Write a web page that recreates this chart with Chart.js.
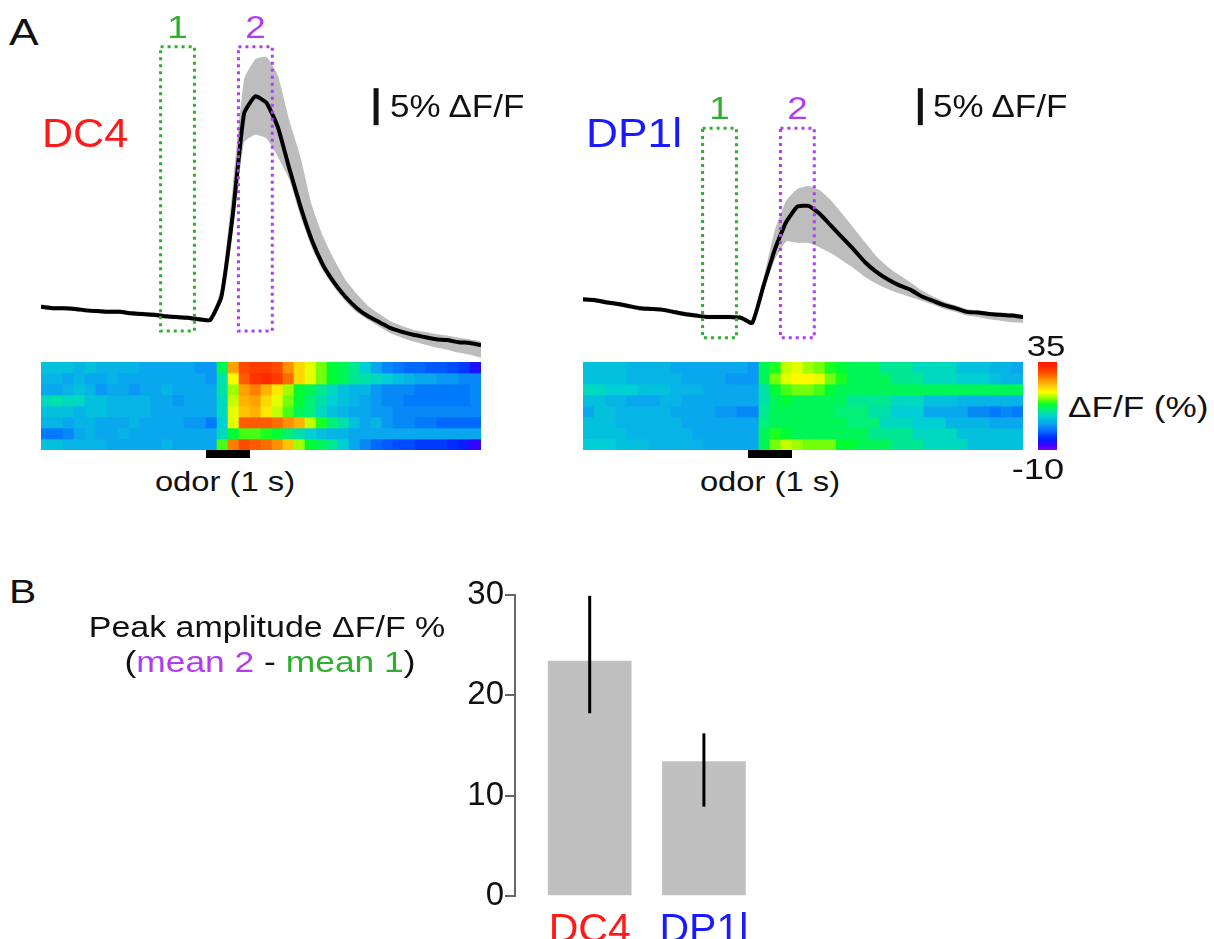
<!DOCTYPE html>
<html>
<head>
<meta charset="utf-8">
<script src="https://cdn.jsdelivr.net/npm/chart.js@4.4.1/dist/chart.umd.min.js"></script>
<style>
  body { margin: 0; width: 1214px; height: 939px; background: #fff; position: relative; overflow: hidden;
         font-family: "Liberation Sans", Arial, sans-serif; }
  .box { position: absolute; }
  .t { position: absolute; white-space: nowrap; line-height: 1; color: #111; transform-origin: left top; }
  .c { text-align: center; transform-origin: center top; }
</style>
</head>
<body>
<div class="box" style="left:41px;top:0;width:440px;height:360px"><canvas id="traceDC4"></canvas></div>
<div class="box" style="left:583px;top:0;width:440px;height:360px"><canvas id="traceDP1l"></canvas></div>
<div class="box" style="left:41px;top:362px;width:440px;height:100px"><canvas id="heatDC4"></canvas></div>
<div class="box" style="left:583px;top:362px;width:440px;height:100px"><canvas id="heatDP1l"></canvas></div>
<div class="box" style="left:1038px;top:362px;width:19px;height:88px"><canvas id="cbar"></canvas></div>
<div class="box" style="left:455px;top:574px;width:330px;height:365px"><canvas id="peak"></canvas></div>

<div class="t" style="left:9px;top:14px;font-size:37px;transform:scaleX(1.2)">A</div>
<div class="t" style="left:42px;top:113px;font-size:41px;color:#ff1a1a;transform:scaleX(1.05)">DC4</div>
<div class="t" style="left:586px;top:113px;font-size:41px;color:#1a1aff;transform:scaleX(1.08)">DP1l</div>
<div class="t" style="left:390px;top:91px;font-size:31px;transform:scaleX(1.13)">5% ΔF/F</div>
<div class="t" style="left:933px;top:91px;font-size:31px;transform:scaleX(1.13)">5% ΔF/F</div>
<div class="t c" style="left:75px;top:468px;width:300px;font-size:28px;transform:scaleX(1.17)">odor (1 s)</div>
<div class="t c" style="left:620px;top:468px;width:300px;font-size:28px;transform:scaleX(1.17)">odor (1 s)</div>
<div class="t c" style="left:1006px;top:332px;width:80px;font-size:29px;transform:scaleX(1.2)">35</div>
<div class="t c" style="left:998px;top:455px;width:80px;font-size:29px;transform:scaleX(1.25)">-10</div>
<div class="t" style="left:1068px;top:392px;font-size:30px;transform:scaleX(1.17)">ΔF/F (%)</div>

<div class="t" style="left:9px;top:574px;font-size:34px;transform:scaleX(1.2)">B</div>
<div class="t c" style="left:67px;top:613px;width:400px;font-size:29px;transform:scaleX(1.17)">Peak amplitude ΔF/F %</div>
<div class="t c" style="left:70px;top:648px;width:400px;font-size:29px;transform:scaleX(1.22)">(<span style="color:#b23cf0">mean 2</span> - <span style="color:#2fae2f">mean 1</span>)</div>

<script>
// ---- panel A: mean traces (% dF/F, baseline at window 1) ----
const frames = Array.from({length: 40}, (_, i) => i);

const dc4Mean = [1.8, 1.6, 1.6, 1.5, 1.3, 1.2, 1.1, 1.1, 0.9, 0.8, 0.7, 0.5, 0.4, 0.3, 0.1, 0.0,
  3.2, 14.2, 27.9, 30.2, 29.3, 26.0, 20.5, 15.3, 10.8, 7.4, 5.0, 3.1, 1.6, 0.5,
  -0.3, -1.1, -1.6, -2.0, -2.3, -2.6, -2.7, -3.0, -3.1, -3.4];
const dc4Hi = [2.1, 1.9, 1.9, 1.8, 1.6, 1.5, 1.4, 1.4, 1.2, 1.1, 1.0, 0.8, 0.7, 0.6, 0.4, 0.3,
  4.5, 18.0, 32.5, 35.2, 35.5, 33.0, 27.0, 22.0, 15.5, 11.3, 8.1, 5.4, 3.5, 1.9,
  0.8, -0.2, -0.8, -1.3, -1.6, -1.9, -2.1, -2.4, -2.6, -2.9];
const dc4Lo = [1.5, 1.3, 1.3, 1.2, 1.0, 0.9, 0.8, 0.8, 0.6, 0.5, 0.4, 0.2, 0.1, 0.0, -0.2, -0.3,
  2.5, 12.0, 24.0, 25.0, 24.5, 22.0, 19.0, 14.0, 9.8, 6.6, 4.4, 2.5, 1.0, 0.0,
  -0.9, -1.8, -2.4, -2.9, -3.3, -3.7, -4.0, -4.4, -4.7, -5.1];

const dp1lMean = [3.2, 3.1, 2.8, 2.6, 2.3, 2.0, 1.9, 1.8, 1.5, 1.2, 1.0, 0.8, 0.8, 0.8, 0.7, 0.0,
  5.0, 9.9, 13.6, 15.7, 15.8, 14.7, 13.1, 11.5, 9.9, 8.2, 6.9, 5.9, 5.1, 4.5,
  3.6, 3.0, 2.4, 2.0, 1.5, 1.4, 1.2, 1.1, 1.0, 0.8];
const dp1lHi = [3.5, 3.4, 3.1, 2.9, 2.6, 2.3, 2.2, 2.1, 1.8, 1.5, 1.3, 1.1, 1.1, 1.1, 1.0, 0.3,
  6.0, 12.5, 16.5, 18.1, 18.5, 17.9, 16.5, 14.7, 12.8, 10.9, 9.0, 7.6, 6.5, 5.5,
  4.4, 3.6, 2.9, 2.4, 1.9, 1.7, 1.5, 1.4, 1.3, 1.1];
const dp1lLo = [2.9, 2.8, 2.5, 2.3, 2.0, 1.7, 1.6, 1.5, 1.2, 0.9, 0.7, 0.5, 0.5, 0.5, 0.4, -0.3,
  4.5, 8.5, 11.0, 10.8, 10.8, 10.2, 9.4, 8.4, 7.4, 6.2, 5.3, 4.6, 4.0, 3.5,
  3.0, 2.5, 1.9, 1.5, 1.0, 0.8, 0.5, 0.3, 0.1, 0.0];

// analysis windows (frame units) and box heights (% dF/F)
const window1 = [10.6, 13.6];
const window2 = [17.5, 20.5];
const dc4BoxY = [36.9, -1.5];
const dp1lBoxY = [26.3, -2.0];

// ---- heatmaps: 8 trials x 40 frames, % dF/F ----
const dc4Heat = [
  [6,6,6,5,6,5,5,5,5,4,4,4,4,4,3,3, 12, 25,30,31,31,30,26,22,19,16,13,12,10,7,4,2,1,0,0,-1,-1,-2,-3,-6],
  [5,5,4,5,4,4,5,4,4,4,4,4,4,4,4,3, 9, 20,29,32,33,31,28,22,19,16,13,12,10,9,8,7,6,5,4,4,3,3,2,2],
  [4,4,5,6,5,3,4,4,3,4,4,5,4,4,4,4, 9, 17,25,27,24,21,17,13,12,10,8,6,5,5,3,2,2,2,1,1,1,1,1,2],
  [8,9,8,8,6,6,5,5,5,5,4,4,3,4,4,4, 8, 18,24,25,22,19,16,13,11,9,7,6,5,4,3,2,2,1,1,1,1,1,1,2],
  [6,6,6,5,6,6,5,5,5,5,4,4,4,4,4,4, 8, 19,23,24,21,18,15,12,11,8,6,5,4,4,3,3,2,2,2,2,2,2,2,2],
  [5,5,4,5,5,4,4,4,5,4,4,4,4,3,3,1, 7, 19,29,29,29,28,26,24,18,14,11,9,6,4,5,3,2,2,1,1,0,0,0,0],
  [1,1,2,4,5,4,4,5,4,4,4,4,4,4,4,4, 8, 13,15,15,14,13,11,9,7,6,5,5,4,4,4,4,4,4,4,4,4,4,4,4],
  [6,6,5,5,5,5,4,4,4,4,4,5,4,4,4,4, 15, 27,30,29,28,26,23,17,13,12,10,7,4,2,0,-1,-2,-2,-3,-3,-3,-4,-5,-7]
];
const dp1lHeat = [
  [6,6,6,6,5,5,5,5,4,4,4,4,4,4,4,3, 12, 14,18,19,17,16,14,13,12,12,12,10,10,10,8,8,8,8,6,6,6,5,5,4],
  [6,6,6,6,5,5,5,5,5,4,4,4,4,3,3,3, 12, 16,19,20,20,19,16,14,12,12,12,12,10,10,10,8,8,8,7,7,7,6,5,5],
  [8,8,7,7,7,6,6,6,5,5,5,4,4,4,4,4, 9, 13,15,16,16,15,13,12,12,12,12,12,12,12,12,12,12,12,12,12,12,12,12,12],
  [6,6,5,5,4,4,4,5,5,4,4,4,4,4,4,4, 9, 12,13,12,12,12,12,12,10,10,10,10,8,8,8,6,6,6,5,5,5,5,5,5],
  [4,6,6,5,5,5,5,5,4,4,4,4,3,3,2,2, 10, 12,12,12,12,12,12,11,11,11,9,9,7,7,7,4,4,4,4,2,2,1,2,1],
  [6,6,6,5,5,5,5,5,5,4,4,4,4,4,4,4, 11, 12,12,12,12,12,12,12,11,11,11,8,8,8,7,7,7,5,5,5,5,4,4,4],
  [6,6,6,6,5,5,5,5,5,5,4,4,4,4,4,4, 12, 14,13,12,12,12,12,12,12,12,10,10,10,10,8,8,8,8,6,6,6,6,6,6],
  [7,7,7,6,6,6,5,5,5,5,5,4,4,4,4,4, 12, 16,18,17,16,16,16,13,13,12,12,12,10,10,10,8,8,8,8,6,6,6,6,6]
];
const odorFrames = [15, 19];
const colorRange = [-10, 35];

// ---- panel B ----
const groups = ['DC4', 'DP1l'];
const peakMean = [23.4, 13.4];
const peakErrLow = [18.2, 8.9];
const peakErrHigh = [29.9, 16.2];
const peakTicks = [0, 10, 20, 30];

const groupColors = ['#ff1a1a', '#1a1aff'];
const green = '#2fae2f', purple = '#b23cf0';

// colormap stops (fraction of range -> rgb)
const cmap = [
  [0.00, [127, 0, 255]], [0.06, [60, 0, 255]], [0.12, [0, 32, 255]], [0.22, [0, 104, 255]],
  [0.30, [10, 160, 242]], [0.38, [0, 208, 212]], [0.46, [0, 238, 130]], [0.52, [0, 255, 40]],
  [0.60, [160, 255, 0]], [0.66, [255, 255, 0]], [0.78, [255, 160, 0]], [0.90, [255, 64, 0]],
  [1.00, [255, 24, 0]]
];
function heatColor(v) {
  let t = (v - colorRange[0]) / (colorRange[1] - colorRange[0]);
  t = Math.max(0, Math.min(1, t));
  for (let k = 1; k < cmap.length; k++) {
    if (t <= cmap[k][0]) {
      const [t0, c0] = cmap[k - 1], [t1, c1] = cmap[k];
      const f = (t - t0) / (t1 - t0);
      const c = c0.map((a, j) => Math.round(a + (c1[j] - a) * f));
      return `rgb(${c[0]},${c[1]},${c[2]})`;
    }
  }
  return 'rgb(255,24,0)';
}

const windowPlugin = {
  id: 'windows',
  afterDatasetsDraw(chart, args, opts) {
    const {ctx, scales: {x, y}} = chart;
    ctx.save();
    opts.boxes.forEach(b => {
      const x0 = x.getPixelForValue(b.from), x1 = x.getPixelForValue(b.to);
      const y0 = y.getPixelForValue(opts.boxY[0]), y1 = y.getPixelForValue(opts.boxY[1]);
      ctx.strokeStyle = b.color;
      ctx.lineWidth = 3;
      ctx.setLineDash([3, 4]);
      ctx.strokeRect(x0, y0, x1 - x0, y1 - y0);
      ctx.setLineDash([]);
      // box number, slightly widened like the rest of the lettering
      ctx.save();
      ctx.translate((x0 + x1) / 2, y0 - 9);
      ctx.scale(1.15, 1);
      ctx.fillStyle = b.color;
      ctx.font = '32px "Liberation Sans", Arial, sans-serif';
      ctx.textAlign = 'center';
      ctx.fillText(b.label, 0, 0);
      ctx.restore();
    });
    // 5% scale bar
    const bx = x.getPixelForValue(opts.bar.x);
    const by0 = y.getPixelForValue(opts.bar.y), by1 = y.getPixelForValue(opts.bar.y + 5);
    ctx.fillStyle = '#111';
    ctx.fillRect(bx - 2.5, by1, 5, by0 - by1);
    ctx.restore();
  }
};

function traceChart(id, mean, hi, lo, yMin, yMax, boxY, bar) {
  new Chart(document.getElementById(id), {
    type: 'line',
    data: {
      labels: frames,
      datasets: [
        {data: mean, borderColor: '#000', borderWidth: 4, pointRadius: 0, fill: false, order: 0, clip: false, tension: 0.15},
        {data: hi, borderWidth: 0, pointRadius: 0, backgroundColor: '#bdbdbd', fill: '+1', order: 1, tension: 0.15},
        {data: lo, borderWidth: 0, pointRadius: 0, backgroundColor: '#bdbdbd', fill: false, order: 2, tension: 0.15}
      ]
    },
    options: {
      animation: false, responsive: true, maintainAspectRatio: false,
      layout: {padding: {top: 40}},
      plugins: {
        legend: {display: false}, tooltip: {enabled: false},
        windows: {
          boxY: boxY, bar: bar,
          boxes: [
            {from: window1[0], to: window1[1], color: green, label: '1'},
            {from: window2[0], to: window2[1], color: purple, label: '2'}
          ]
        }
      },
      scales: {
        x: {type: 'linear', display: false, min: 0, max: 39},
        y: {display: false, min: yMin, max: yMax}
      }
    },
    plugins: [windowPlugin]
  });
}

const odorPlugin = {
  id: 'odor',
  afterDraw(chart) {
    const {ctx, scales: {x}, chartArea} = chart;
    const cell = x.width / frames.length;
    const x0 = x.getPixelForValue(odorFrames[0]) - cell / 2;
    const x1 = x.getPixelForValue(odorFrames[1]) - cell / 2;
    ctx.fillStyle = '#000';
    ctx.fillRect(x0, chartArea.bottom, x1 - x0, 8);
  }
};

function heatChart(id, rows) {
  new Chart(document.getElementById(id), {
    type: 'bar',
    data: {
      labels: frames,
      datasets: rows.map(r => ({
        data: r.map(() => 1),
        backgroundColor: r.map(heatColor),
        borderWidth: 0, barPercentage: 1, categoryPercentage: 1
      }))
    },
    options: {
      animation: false, responsive: true, maintainAspectRatio: false,
      layout: {padding: {bottom: 12}},
      plugins: {legend: {display: false}, tooltip: {enabled: false}},
      scales: {
        x: {display: false, stacked: true},
        y: {display: false, stacked: true, reverse: true, min: 0, max: rows.length}
      }
    },
    plugins: [odorPlugin]
  });
}

traceChart('traceDC4', dc4Mean, dc4Hi, dc4Lo, -5.4, 37.8, dc4BoxY, {x: 29.7, y: 26.3});
traceChart('traceDP1l', dp1lMean, dp1lHi, dp1lLo, -5.0, 38.2, dp1lBoxY, {x: 29.9, y: 26.7});
heatChart('heatDC4', dc4Heat);
heatChart('heatDP1l', dp1lHeat);

// colour bar
const cbLevels = [];
for (let v = colorRange[1]; v > colorRange[0]; v -= 0.5) cbLevels.push(v);
new Chart(document.getElementById('cbar'), {
  type: 'bar',
  data: {
    labels: cbLevels,
    datasets: [{data: cbLevels.map(() => 1), backgroundColor: cbLevels.map(heatColor),
      borderWidth: 0, barPercentage: 1, categoryPercentage: 1}]
  },
  options: {
    indexAxis: 'y', animation: false, responsive: true, maintainAspectRatio: false,
    plugins: {legend: {display: false}, tooltip: {enabled: false}},
    scales: {x: {display: false, min: 0, max: 1}, y: {display: false}}
  }
});

// ---- panel B bar chart ----
const errorBarPlugin = {
  id: 'errbars',
  afterDatasetsDraw(chart) {
    const {ctx, scales: {x, y}} = chart;
    ctx.save();
    ctx.strokeStyle = '#000';
    ctx.lineWidth = 3;
    groups.forEach((g, i) => {
      const px = x.getPixelForValue(i + 1);
      ctx.beginPath();
      ctx.moveTo(px, y.getPixelForValue(peakErrLow[i]));
      ctx.lineTo(px, y.getPixelForValue(peakErrHigh[i]));
      ctx.stroke();
    });
    ctx.restore();
  }
};

new Chart(document.getElementById('peak'), {
  type: 'bar',
  data: {
    datasets: [{
      data: peakMean.map((v, i) => ({x: i + 1, y: v})),
      backgroundColor: '#c0c0c0', borderWidth: 0, barThickness: 83
    }]
  },
  options: {
    animation: false, responsive: true, maintainAspectRatio: false,
    layout: {padding: {top: 20, right: 0}},
    plugins: {legend: {display: false}, tooltip: {enabled: false}},
    scales: {
      x: {
        type: 'linear', min: 0.346, max: 2.71, offset: false,
        afterBuildTicks: s => { s.ticks = groups.map((g, i) => ({value: i + 1})); },
        afterFit: s => { s.height = 43; },
        ticks: {
          autoSkip: false, padding: 2, font: {size: 41, family: '"Liberation Sans", Arial'},
          color: c => groupColors[c.index], callback: v => groups[v - 1]
        },
        grid: {display: false}, border: {display: false}
      },
      y: {
        min: 0, max: 30,
        afterBuildTicks: s => { s.ticks = peakTicks.map(v => ({value: v})); },
        afterFit: s => { s.width = 60; },
        ticks: {font: {size: 33, family: '"Liberation Sans", Arial'}, color: '#111', padding: 1},
        grid: {drawOnChartArea: false, drawTicks: true, tickLength: 10, color: '#666', lineWidth: 2},
        border: {display: true, color: '#666', width: 2}
      }
    }
  },
  plugins: [errorBarPlugin]
});
</script>
</body>
</html>
